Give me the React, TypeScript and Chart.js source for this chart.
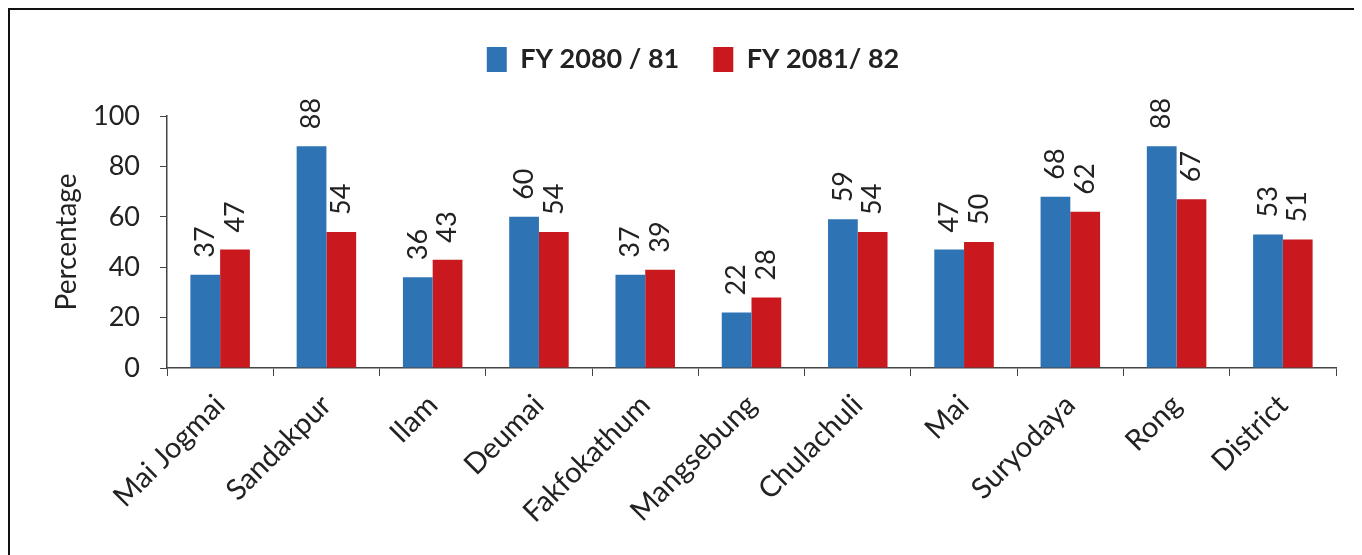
import React, { useEffect, useRef } from "react";
import { Chart, registerables } from "chart.js";

Chart.register(...registerables);

const categories = ["Mai Jogmai", "Sandakpur", "Ilam", "Deumai", "Fakfokathum", "Mangsebung", "Chulachuli", "Mai", "Suryodaya", "Rong", "District"];
const fy8081 = [37, 88, 36, 60, 37, 22, 59, 47, 68, 88, 53];
const fy8182 = [47, 54, 43, 54, 39, 28, 54, 50, 62, 67, 51];
const seriesNames = ["FY 2080 / 81", "FY 2081/ 82"];
const yTicks = [0, 20, 40, 60, 80, 100];

const FONT = "Lato, 'Open Sans', sans-serif";

const valueLabels = {
  id: "valueLabels",
  afterDatasetsDraw(chart: any) {
    const ctx = chart.ctx;
    ctx.save();
    ctx.font = `27px ${FONT}`;
    ctx.fillStyle = "#222";
    ctx.textAlign = "left";
    ctx.textBaseline = "middle";
    chart.data.datasets.forEach((ds: any, di: number) => {
      const meta = chart.getDatasetMeta(di);
      meta.data.forEach((el: any, i: number) => {
        ctx.save();
        ctx.translate(el.x, el.y - 17);
        ctx.rotate(-Math.PI / 2);
        ctx.fillText(String(ds.data[i]), 0, 0);
        ctx.restore();
      });
    });
    ctx.restore();
  },
};

const legendSpace = {
  id: "legendSpace",
  beforeInit(chart: any) {
    const legend = chart.legend;
    if (!legend) return;
    const origFit = legend.fit;
    legend.fit = function () {
      origFit.call(this);
      this.height += 33;
    };
  },
};

export default function App() {
  const ref = useRef<HTMLCanvasElement>(null);
  useEffect(() => {
    const chart = new Chart(ref.current!, {
      type: "bar",
      data: {
        labels: categories,
        datasets: [
          { label: seriesNames[0], data: fy8081, backgroundColor: "#2E74B5", categoryPercentage: 0.56, barPercentage: 1 },
          { label: seriesNames[1], data: fy8182, backgroundColor: "#C9191E", categoryPercentage: 0.56, barPercentage: 1 },
        ],
      },
      options: {
        animation: false,
        responsive: false,
        layout: { padding: { left: 40, right: 26, top: 2, bottom: 0 } },
        plugins: {
          legend: {
            position: "top",
            labels: {
              font: { family: FONT, size: 27, weight: "bold" },
              color: "#222",
              boxWidth: 20,
              boxHeight: 25,
              padding: 34,
            },
          },
          tooltip: { enabled: false },
        },
        scales: {
          x: {
            grid: { display: true, drawOnChartArea: false, tickLength: 8, color: "#444", offset: true },
            border: { color: "#444", width: 1.5 },
            ticks: {
              font: { family: FONT, size: 29 },
              color: "#222",
              minRotation: 45,
              maxRotation: 45,
              padding: 12,
            },
            afterFit(scale: any) {
              scale.height = 187;
            },
          },
          y: {
            min: 0,
            max: 100,
            afterBuildTicks(scale: any) {
              scale.ticks = yTicks.map((v) => ({ value: v }));
            },
            grid: { display: true, drawOnChartArea: false, tickLength: 7, color: "#444" },
            border: { color: "#444", width: 1.5 },
            ticks: { font: { family: FONT, size: 27 }, color: "#222", padding: 20 },
            title: { display: true, text: "Percentage", font: { family: FONT, size: 28 }, color: "#222", padding: 0 },
            afterFit(scale: any) {
              scale.width = 117;
            },
          },
        },
      },
      plugins: [valueLabels, legendSpace],
    });
    return () => chart.destroy();
  }, []);
  return (
    <div style={{ borderLeft: "2px solid #111", borderTop: "2px solid #111", width: 1352, height: 545, overflow: "hidden" }}>
      <canvas ref={ref} width={1352} height={545} style={{ display: "block" }} />
    </div>
  );
}
